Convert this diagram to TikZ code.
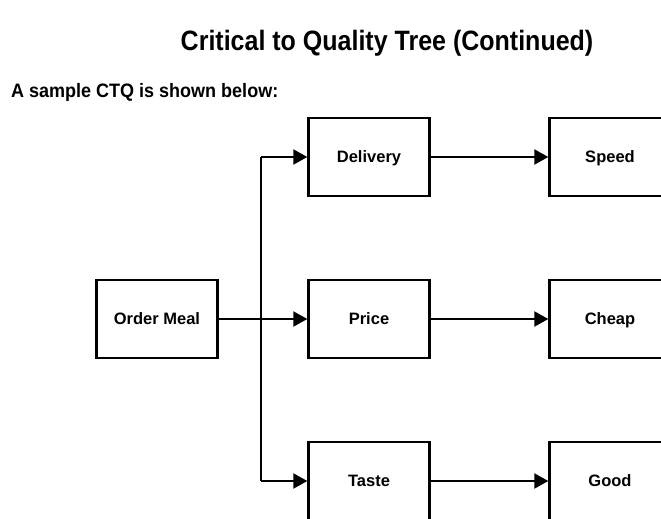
\documentclass[tikz,border=0pt]{standalone}
\usepackage{fontspec}
\setmainfont{Liberation Sans}
\usetikzlibrary{arrows.meta}
\begin{document}
\begin{tikzpicture}[x=1pt,y=-1pt,
  box/.style={draw, line width=2.4pt, minimum width=121pt, minimum height=78pt,
    inner sep=0pt, text height=13pt, text depth=1.5pt,
    font=\fontsize{16.5}{19}\selectfont\bfseries},
  link/.style={line width=2.2pt, -{Triangle[length=14pt,width=15pt]}},
  trunk/.style={line width=2.2pt}]
\useasboundingbox (0,0) rectangle (661,519);
\fill[white] (0,0) rectangle (661,519);

\node[anchor=base, font=\fontsize{25}{30}\selectfont\bfseries] (title) at (387,51)
  {\scalebox{1}[1.12]{Critical to Quality Tree (Continued)}};
\node[anchor=base west, inner sep=0pt, font=\fontsize{18}{22}\selectfont\bfseries] (sub) at (11,97)
  {\scalebox{1}[1.08]{A sample CTQ is shown below:}};

\node[box] (order) at (157,319) {Order Meal};
\node[box] (delivery) at (369,157) {Delivery};
\node[box] (price) at (369,319) {Price};
\node[box] (taste) at (369,481) {Taste};
\node[box] (speed) at (610,157) {Speed};
\node[box] (cheap) at (610,319) {Cheap};
\node[box] (good) at (610,481) {Good};

\coordinate (top) at (261,157);
\coordinate (bot) at (261,481);

\draw[trunk] (top) -- (bot);
\draw[link] (order) -- (price);
\draw[link] (top) -- (delivery);
\draw[link] (bot) -- (taste);
\draw[link] (delivery) -- (speed);
\draw[link] (price) -- (cheap);
\draw[link] (taste) -- (good);
\end{tikzpicture}
\end{document}
